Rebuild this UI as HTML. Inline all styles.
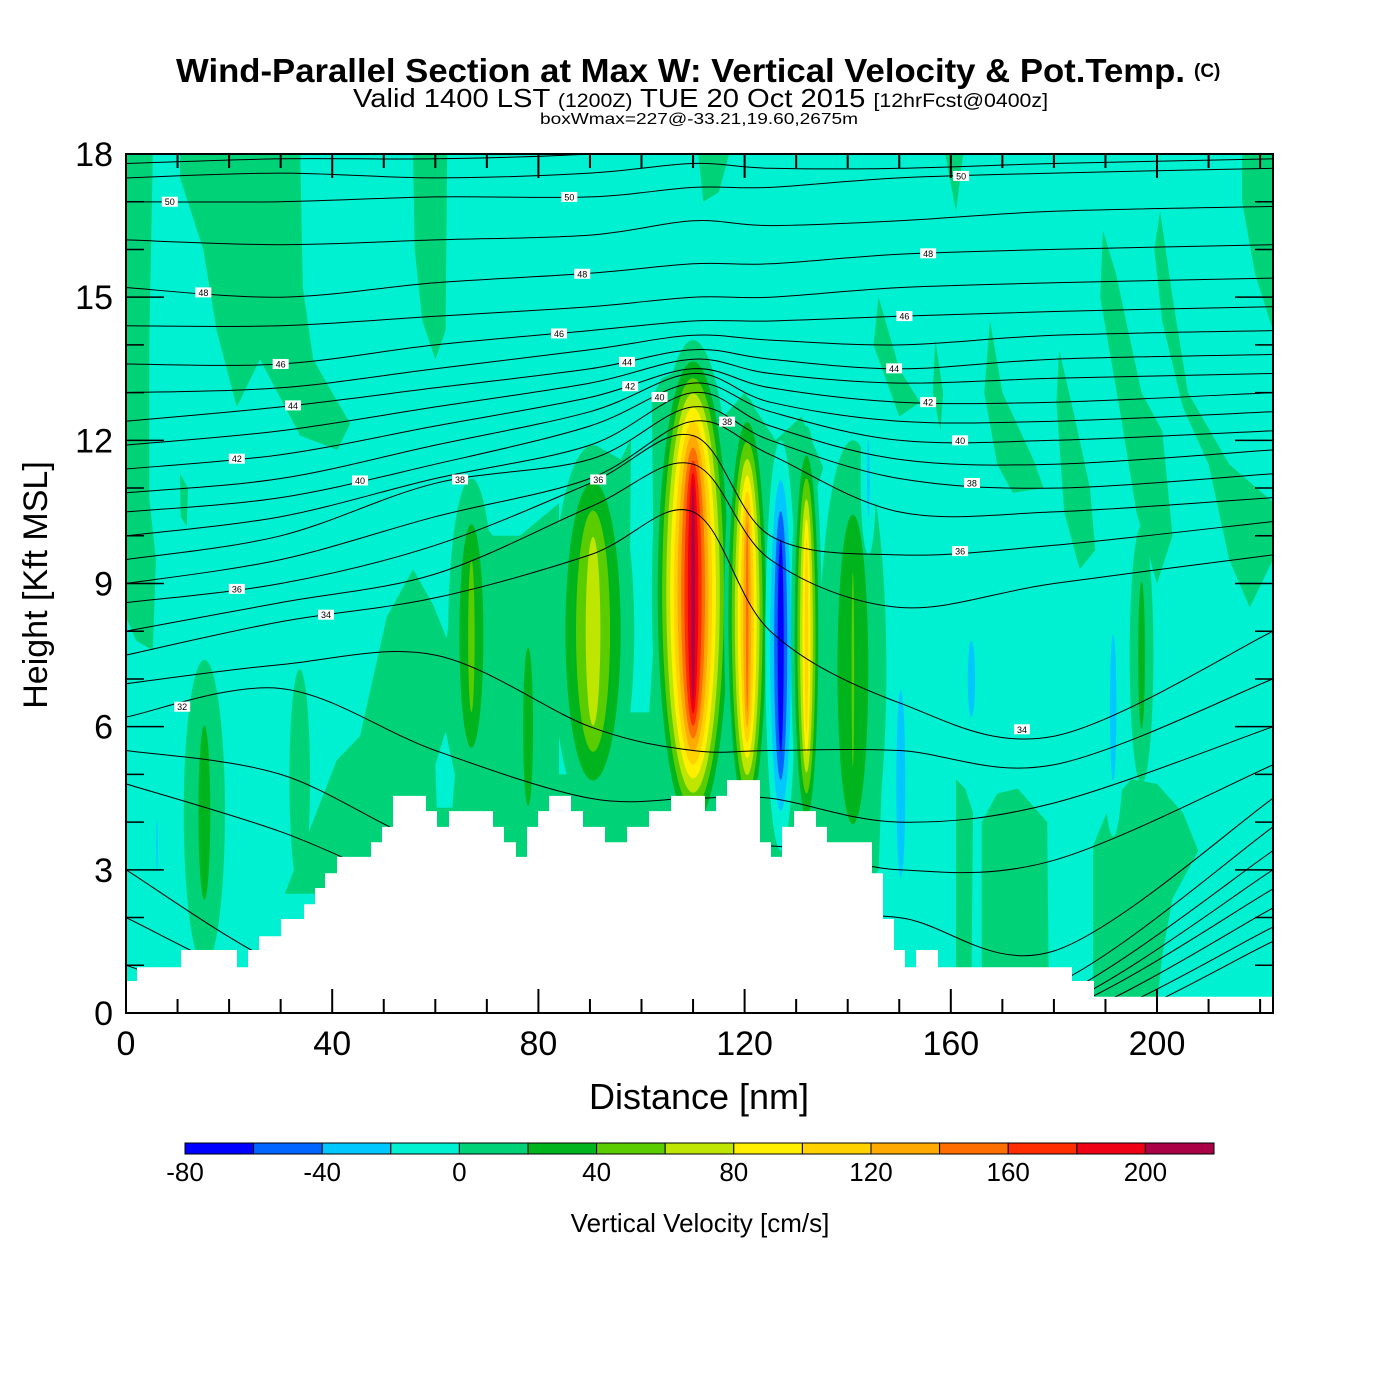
<!DOCTYPE html>
<html><head><meta charset="utf-8"><style>
html,body{margin:0;padding:0;background:#fff;}
svg{display:block;font-family:"Liberation Sans",Arial,sans-serif;}
</style></head><body>
<svg id="chart" width="1400" height="1400" viewBox="0 0 1400 1400" xmlns="http://www.w3.org/2000/svg">
<rect x="0" y="0" width="1400" height="1400" fill="#fff"/>
<g>
<text x="176" y="82" font-size="33" font-weight="bold" textLength="1009" lengthAdjust="spacingAndGlyphs">Wind-Parallel Section at Max W: Vertical Velocity &amp; Pot.Temp.</text>
<text x="1194" y="77" font-size="19" font-weight="bold">(C)</text>
<text x="353" y="107" font-size="26" textLength="695" lengthAdjust="spacingAndGlyphs">Valid 1400 LST <tspan font-size="19">(1200Z)</tspan> TUE 20 Oct 2015 <tspan font-size="19">[12hrFcst@0400z]</tspan></text>
<text x="540" y="124" font-size="16" textLength="318" lengthAdjust="spacingAndGlyphs">boxWmax=227@-33.21,19.60,2675m</text>
</g>
<defs><clipPath id="plotclip"><rect x="126" y="154" width="1147" height="859"/></clipPath></defs>
<g id="plot" clip-path="url(#plotclip)"></g>
<g id="axes"></g>
<g id="cbar"></g>
</svg>
<script>
// ---- data ----
var classLevels = [-80,-60,-40,-20,0,20,40,60,80,100,120,140,160,180,200,220];
var classColors = ["#0000FF","#0064FF","#00C8FF","#00F0D2","#00D278","#00B41E","#5ACD00","#BEE600","#FFF000","#FFD200","#FFAA00","#FF6E00","#FF2D00","#F00014","#AA0046"];
var cbarLabels = [-80,-40,0,40,80,120,160,200];
var xTicks = [0,40,80,120,160,200];
var yTicks = [0,3,6,9,12,15,18];
// velocity features: centre distance (nm), centre height (kft), half width (nm), half height (kft), peak (cm/s)
var featX    = [90.6, 67, 78, 15.2, 33.7, 141, 110, 120.5, 127, 132, 150.3, 164, 191.5, 197, 144, 6];
var featZ    = [8.0, 7.9, 6.0, 4.2, 4.9, 7.2, 8.8, 8.3, 7.7, 7.9, 4.8, 7.0, 6.4, 7.5, 11.2, 3.5];
var featW    = [8, 4.5, 3, 4, 2, 6.5, 8, 4.5, 3, 3, 2.7, 2.5, 2.2, 2.3, 1.5, 1];
var featH    = [3.9, 3.3, 2.8, 3.2, 2.3, 4.8, 5.3, 4.6, 4.3, 4.4, 3.3, 1.4, 2.7, 2.7, 1.6, 1.1];
var featPeak = [76, 48, 32, 30, 15, 42, 212, 150, -78, 115, -32, -30, -30, 30, -25, -25];
// weak-updraft (0..20) regions and weak (-20..0) pockets as polygons [nm,kft]
var greenRegions = [
 [[0,18],[5.2,18],[4.5,14],[4.5,10.8],[5.8,9.5],[5.2,7.6],[2,7.8],[0,8.3]],
 [[10.5,18],[33.8,18],[34.3,15.2],[36.3,13.7],[40,13.0],[43.5,12.35],[41,11.8],[33.8,12.1],[26,13.7],[21.5,12.7],[17.6,14.3],[15,16.0],[10.5,17.5]],
 [[10.5,11.3],[12,11.0],[11.8,10.2],[10.6,10.4]],
 [[55.7,18],[62.3,18],[62,14.3],[60,13.7],[57.5,14.5],[56,16]],
 [[111,18],[117,18],[115,17.2],[112,17]],
 [[108.5,12],[110.5,14.1],[112,12]],
 [[158.9,18],[162.4,18],[161,16.8]],
 [[216.5,18],[222.5,18],[222.5,14.3],[219,15.5],[216.5,17]],
 [[30.8,2.5],[40.9,5.3],[45.4,5.8],[50.6,8.3],[55.7,9.3],[59.6,8.55],[62.2,7.85],[64.8,10.0],[66.7,10.6],[71.2,10.0],[76.4,10.0],[84.2,10.7],[88.1,11.5],[91,11.9],[96,11.6],[100,12.5],[104,13.3],[110,13.6],[116,12.5],[120,13.0],[126,12.0],[131,12.5],[137,11.0],[140,10.5],[143,10.0],[146,8.0],[147,6],[146,3],[143,2.5]],
 [[189.5,16.4],[192,15.5],[197,13],[201,12.2],[203,10],[200,9],[196,10.5],[193,12.5],[189,15]],
 [[200.6,16.8],[203,15],[206,13],[214,11.5],[222.5,10.7],[222.5,9.5],[218,8.5],[214,9.5],[210,11.5],[205,12.7],[201,14.5],[199.5,16]],
 [[181,13.9],[184,12.5],[187,11],[188,9.7],[185,9.3],[182,10.5],[180.5,12.8]],
 [[167.6,14.5],[170,13],[176,11.6],[178,11],[172,10.9],[169,11.5],[166.5,13]],
 [[146,15],[150,13.5],[154,12.8],[150,12.5],[145,14]],
 [[157,14.1],[158.5,13],[158,12.2],[156.5,13]],
 [[161,4.9],[162.8,4.7],[164.3,4.2],[164,0.5],[161,0.5]],
 [[166,4.0],[169,4.6],[173,4.7],[178.7,4.0],[179,0.5],[166,0.5]],
 [[187.6,3.5],[191,4.4],[195,4.9],[200,4.8],[205,4.2],[208,3.4],[203,2.4],[201,1.2],[200,0.2],[187.6,0.2]]
];
var cyanPockets = [
 [[84,5],[86,5],[86,11],[84,11]],
 [[97.5,6.3],[98,12.5],[100,13.3],[102,12.8],[102.5,8],[101.5,6.3]],
 [[134,6],[134,11],[137,12],[138,10.5],[137,6]],
 [[60.3,4.3],[63.3,4.3],[63.8,5.0],[62,5.9],[60,5.2]]
];
// potential temperature contours (K) sampled at anchor distances
var thetaAnchors = [0,30,60,90,110,125,150,180,222.5];
var thetaLevels = [52,51,50,49,48,47,46,45,44,43,42,41,40,39,38,37,36,35,34,33,32,31,30,29,28,27,26,25,24,23];
var thetaHeights = [
 [17.8,17.9,17.9,18.0,18.2,18.1,18.1,18.2,18.3],
 [17.5,17.6,17.5,17.6,17.8,17.7,17.7,17.8,17.9],
 [17.0,17.0,17.1,17.1,17.3,17.3,17.5,17.6,17.7],
 [16.2,16.1,16.2,16.3,16.6,16.5,16.6,16.8,16.9],
 [15.2,15.0,15.3,15.5,15.7,15.7,15.9,16.0,16.1],
 [14.4,14.4,14.6,14.8,15.0,15.0,15.2,15.3,15.4],
 [13.6,13.6,14.0,14.3,14.5,14.5,14.6,14.7,14.8],
 [13.0,13.1,13.5,13.9,14.2,14.1,14.0,14.2,14.3],
 [12.4,12.7,13.1,13.5,13.9,13.7,13.5,13.7,13.8],
 [11.9,12.2,12.7,13.2,13.7,13.4,13.2,13.3,13.4],
 [11.4,11.7,12.3,12.9,13.5,13.1,12.8,12.8,13.0],
 [10.9,11.2,11.9,12.6,13.4,12.8,12.4,12.4,12.6],
 [10.5,10.8,11.5,12.3,13.2,12.6,12.0,12.0,12.2],
 [10.0,10.4,11.2,11.9,13.0,12.3,11.6,11.5,11.8],
 [9.5,10.0,11.1,11.6,12.7,12.0,11.2,11.0,11.3],
 [9.0,9.5,10.4,11.2,12.4,11.7,10.5,10.5,10.8],
 [8.6,9.0,9.8,11.1,12.1,10.0,9.6,9.8,10.3],
 [8.0,8.6,9.2,10.6,11.5,9.5,8.5,9.0,9.6],
 [7.5,8.2,8.7,9.6,10.5,8.0,6.5,5.8,8.0],
 [6.9,7.3,7.5,6.0,5.5,5.5,5.5,5.2,7.0],
 [6.2,6.8,5.5,4.5,4.5,4.5,4.0,4.4,6.0],
 [5.5,5.0,3.5,3.0,3.0,3.5,3.0,3.2,5.2],
 [4.8,3.8,2.5,2.0,2.0,2.0,2.0,1.3,4.5],
 [3.0,1.0,0,0,0,0,0.5,0.6,3.9],
 [2.0,0.5,0,0,0,0,0,0.3,3.4],
 [1.0,0,0,0,0,0,0,0.1,3.0],
 [0,0,0,0,0,0,0,0,2.6],
 [0,0,0,0,0,0,0,-0.2,2.2],
 [0,0,0,0,0,0,0,-0.4,1.8],
 [0,0,0,0,0,0,0,-0.6,1.5]
];
var labelLevels = [50,50,50,48,48,48,46,46,46,44,44,44,42,42,42,40,40,40,38,38,38,36,36,36,34,34,32];
var labelDist   = [8.5,86,162,15,88.5,155.6,30,84,151,32.4,97.2,149,21.5,97.8,155.6,45.4,103.5,161.8,64.8,116.6,164.1,21.5,91.6,161.8,38.8,173.8,10.9];
// terrain steps: start distance (nm) and height (kft)
var terrainX = [0,2.13,10.67,21.53,23.67,25.80,30.07,34.53,36.66,38.60,40.93,47.53,49.66,51.79,58.20,60.33,62.66,71.19,73.33,75.65,77.79,79.92,82.06,86.32,88.65,92.92,97.19,101.45,105.72,112.32,114.45,116.59,122.99,125.12,127.26,129.58,133.85,135.98,144.71,146.85,148.98,151.12,153.25,157.52,183.51,187.78];
var terrainH = [0.67,0.96,1.32,0.96,1.32,1.61,1.97,2.28,2.62,2.93,3.27,3.58,3.90,4.55,4.23,3.90,4.23,3.90,3.58,3.27,3.90,4.23,4.55,4.23,3.90,3.58,3.90,4.23,4.55,4.23,4.55,4.88,3.58,3.27,3.90,4.23,3.90,3.58,2.93,1.97,1.32,0.96,1.32,0.96,0.67,0.34];

// ---- scales ----
var X0=126, X1=1273, Y0=1013, Y1=154, XMAX=222.5, ZMAX=18;
function sx(d){return X0 + d*(X1-X0)/XMAX;}
function sy(z){return Y0 - z*(Y0-Y1)/ZMAX;}
function sw(d){return d*(X1-X0)/XMAX;}
function sh(z){return z*(Y0-Y1)/ZMAX;}
var NS="http://www.w3.org/2000/svg";
function mk(tag,attrs,parent){var e=document.createElementNS(NS,tag);for(var k in attrs)e.setAttribute(k,attrs[k]);parent.appendChild(e);return e;}
function colorFor(v){for(var i=0;i<classColors.length;i++){if(v<classLevels[i+1])return classColors[i];}return classColors[classColors.length-1];}
function polyPts(p){return p.map(function(q){return sx(q[0]).toFixed(1)+","+sy(q[1]).toFixed(1);}).join(" ");}

var plot=document.getElementById("plot");
var bg=mk("rect",{x:X0,y:Y1,width:X1-X0,height:Y0-Y1,fill:"#00F0D2"},plot);


greenRegions.forEach(function(p){
  var e=mk("polygon",{points:polyPts(p),fill:colorFor(10)},plot);
  
  
});
cyanPockets.forEach(function(p){
  var e=mk("polygon",{points:polyPts(p),fill:colorFor(-10)},plot);
  
  
});
featX.forEach(function(x,i){
  var P=featPeak[i], g=mk("g",{},plot);
  
  
  var thr=[];
  if(P>0){for(var t=0;t<P;t+=20)thr.push(t);}else{for(var t=0;t>P;t-=20)thr.push(t);}
  thr.forEach(function(t){
    var r = t===0?1:1-Math.pow(Math.abs(t/P),0.83);
    var rx=featW[i]*r, ry=featH[i]*(0.4+0.6*r);
    var col = P>0?colorFor(t+10):colorFor(t-10);
    var e=mk("ellipse",{cx:sx(x),cy:sy(featZ[i]),rx:sw(rx),ry:sh(ry),fill:col},g);
    
    
  });
});
// theta contours
function catmull(pts){
  var d="M"+pts[0][0].toFixed(1)+","+pts[0][1].toFixed(1);
  for(var i=0;i<pts.length-1;i++){
    var p0=pts[Math.max(0,i-1)],p1=pts[i],p2=pts[i+1],p3=pts[Math.min(pts.length-1,i+2)];
    var c1=[p1[0]+(p2[0]-p0[0])/6,p1[1]+(p2[1]-p0[1])/6];
    var c2=[p2[0]-(p3[0]-p1[0])/6,p2[1]-(p3[1]-p1[1])/6];
    d+=" C"+c1[0].toFixed(1)+","+c1[1].toFixed(1)+" "+c2[0].toFixed(1)+","+c2[1].toFixed(1)+" "+p2[0].toFixed(1)+","+p2[1].toFixed(1);
  }
  return d;
}
function thetaHeightAt(li,d){
  var h=thetaHeights[li];
  for(var i=0;i<thetaAnchors.length-1;i++){
    if(d<=thetaAnchors[i+1]){var f=(d-thetaAnchors[i])/(thetaAnchors[i+1]-thetaAnchors[i]);return h[i]+f*(h[i+1]-h[i]);}
  }
  return h[h.length-1];
}
thetaLevels.forEach(function(lv,li){
  var pts=thetaAnchors.map(function(a,j){return [sx(a),sy(thetaHeights[li][j])];});
  var e=mk("path",{d:catmull(pts),fill:"none",stroke:"#000","stroke-width":1},plot);
  
  
});
// terrain
var tp=[[sx(0),Y0+2]];
terrainX.forEach(function(x,i){
  var xe = i<terrainX.length-1?terrainX[i+1]:XMAX;
  tp.push([sx(x),sy(terrainH[i])]); tp.push([sx(xe),sy(terrainH[i])]);
});
tp.push([sx(XMAX),Y0+2]);
var terr=mk("polygon",{points:tp.map(function(p){return p[0].toFixed(1)+","+p[1].toFixed(1);}).join(" "),fill:"#fff"},plot);


// contour labels
labelLevels.forEach(function(lv,i){
  var li=thetaLevels.indexOf(lv), d=labelDist[i];
  var cx=sx(d), cy=sy(thetaHeightAt(li,d));
  var g=mk("g",{},plot);
  
  
  mk("rect",{x:cx-8,y:cy-5,width:16,height:10,fill:"#fff"},g);
  var t=mk("text",{x:cx,y:cy+3.5,"font-size":9,"text-anchor":"middle",fill:"#000"},g);
  t.textContent=lv;
});
// axes
var ax=document.getElementById("axes");
var fr=mk("rect",{x:X0,y:Y1,width:X1-X0,height:Y0-Y1,fill:"none",stroke:"#000","stroke-width":2},ax);


for(var d=0;d<=XMAX;d+=10){
  var L=(d%40===0)?24:14, x=sx(d);
  mk("line",{x1:x,y1:Y0,x2:x,y2:Y0-L,stroke:"#000","stroke-width":2},ax);
  mk("line",{x1:x,y1:Y1,x2:x,y2:Y1+L,stroke:"#000","stroke-width":2},ax);
}
for(var z=0;z<=ZMAX;z+=1){
  var L=(z%3===0)?38:18, y=sy(z);
  mk("line",{x1:X0,y1:y,x2:X0+L,y2:y,stroke:"#000","stroke-width":1.5},ax);
  mk("line",{x1:X1,y1:y,x2:X1-L,y2:y,stroke:"#000","stroke-width":1.5},ax);
}
xTicks.forEach(function(v){
  var t=mk("text",{x:sx(v),y:1055,"font-size":34,"text-anchor":"middle"},ax);
  
  
  t.textContent=v;
});
yTicks.forEach(function(v){
  var t=mk("text",{x:113,y:sy(v)+12,"font-size":34,"text-anchor":"end"},ax);
  
  
  t.textContent=v;
});
var xt=mk("text",{x:699,y:1109,"font-size":36,"text-anchor":"middle"},ax);


xt.textContent="Distance [nm]";
var yt=mk("text",{x:47,y:585,"font-size":34,"text-anchor":"middle",transform:"rotate(-90 47 585)"},ax);


yt.textContent="Height [Kft MSL]";
// colorbar
var cb=document.getElementById("cbar");
var CB0=185, CB1=1214, cbw=(CB1-CB0)/classColors.length;
classColors.forEach(function(c,i){
  var r=mk("rect",{x:CB0+i*cbw,y:1143,width:cbw,height:11,fill:c,stroke:"#000","stroke-width":1},cb);
  
  
});
function cbx(v){return CB0+(v-classLevels[0])/(classLevels[classLevels.length-1]-classLevels[0])*(CB1-CB0);}
cbarLabels.forEach(function(v){
  var t=mk("text",{x:cbx(v),y:1181,"font-size":26,"text-anchor":"middle"},cb);
  
  
  t.textContent=v;
});
var ct=mk("text",{x:700,y:1232,"font-size":26,"text-anchor":"middle"},cb);


ct.textContent="Vertical Velocity [cm/s]";
</script>
</body></html>
